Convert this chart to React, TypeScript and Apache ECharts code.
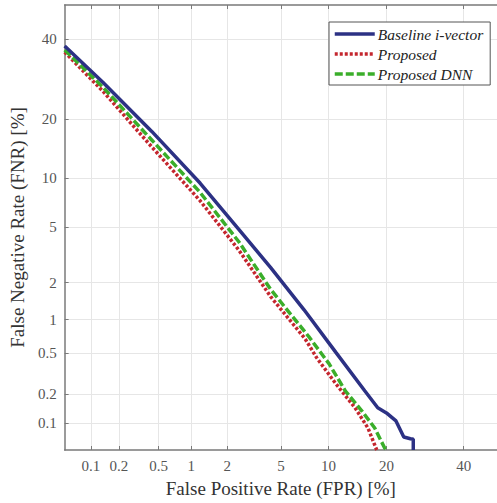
import React, { useEffect, useRef } from "react";
import * as echarts from "echarts";

// Tick positions (percent) and labels on both probit-scaled axes
const tickPercents = [0.1, 0.2, 0.5, 1, 2, 5, 10, 20, 40];
const tickLabels = ["0.1", "0.2", "0.5", "1", "2", "5", "10", "20", "40"];
const axisMinPercent = 0.05;
const axisMaxPercent = 50;

const seriesNames = ["Baseline i-vector", "Proposed", "Proposed DNN"];

// Baseline i-vector (FPR %, FNR %)
const baselineFPR = [0.05, 0.135, 0.43, 1.19, 2.47, 4.25, 7.1, 11.0, 15.7, 18.2, 20.0, 22.1, 23.9, 25.5, 26.2, 26.2];
const baselineFNR = [38.1, 28.4, 17.5, 9.4, 4.86, 2.61, 1.21, 0.51, 0.217, 0.145, 0.128, 0.105, 0.07, 0.067, 0.066, 0.05];

// Proposed
const proposedFPR = [0.05, 0.135, 0.43, 1.19, 2.47, 4.25, 7.2, 8.5, 11.0, 14.0, 16.3, 18.0];
const proposedFNR = [36.4, 26.2, 14.7, 7.4, 3.5, 1.55, 0.68, 0.455, 0.255, 0.145, 0.088, 0.05];

// Proposed DNN
const dnnFPR = [0.05, 0.135, 0.43, 1.19, 2.47, 4.25, 7.6, 10.05, 12.4, 15.2, 17.6, 19.6, 20.0];
const dnnFNR = [37.0, 27.2, 15.9, 8.3, 4.0, 1.77, 0.71, 0.4, 0.217, 0.134, 0.088, 0.053, 0.05];

function probit(p: number): number {
  const a = [-3.969683028665376e1, 2.209460984245205e2, -2.759285104469687e2, 1.38357751867269e2, -3.066479806614716e1, 2.506628277459239];
  const b = [-5.447609879822406e1, 1.615858368580409e2, -1.556989798598866e2, 6.680131188771972e1, -1.328068155288572e1];
  const c = [-7.784894002430293e-3, -3.223964580411365e-1, -2.400758277161838, -2.549732539343734, 4.374664141464968, 2.938163982698783];
  const d = [7.784695709041462e-3, 3.224671290700398e-1, 2.445134137142996, 3.754408661907416];
  const plow = 0.02425;
  const phigh = 1 - plow;
  if (p < plow) {
    const q = Math.sqrt(-2 * Math.log(p));
    return (((((c[0] * q + c[1]) * q + c[2]) * q + c[3]) * q + c[4]) * q + c[5]) / ((((d[0] * q + d[1]) * q + d[2]) * q + d[3]) * q + 1);
  }
  if (p <= phigh) {
    const q = p - 0.5;
    const r = q * q;
    return ((((((a[0] * r + a[1]) * r + a[2]) * r + a[3]) * r + a[4]) * r + a[5]) * q) / (((((b[0] * r + b[1]) * r + b[2]) * r + b[3]) * r + b[4]) * r + 1);
  }
  const q = Math.sqrt(-2 * Math.log(1 - p));
  return -(((((c[0] * q + c[1]) * q + c[2]) * q + c[3]) * q + c[4]) * q + c[5]) / ((((d[0] * q + d[1]) * q + d[2]) * q + d[3]) * q + 1);
}

const toP = (pct: number) => probit(pct / 100);
const tickProbits = tickPercents.map(toP);
const fmt = (v: number) => {
  const i = tickProbits.findIndex((t) => Math.abs(t - v) < 1e-6);
  return i >= 0 ? tickLabels[i] : "";
};
const pairs = (xs: number[], ys: number[]) => xs.map((x, i) => [toP(x), toP(ys[i])]);

const SERIF = "'Liberation Serif', 'Times New Roman', 'DejaVu Serif', serif";
const AXIS_COLOR = "#7a7a7a";
const GRID_COLOR = "#e6e6e6";

export default function App() {
  const ref = useRef<HTMLDivElement>(null);
  useEffect(() => {
    if (!ref.current) return;
    const chart = echarts.init(ref.current, null, { renderer: "svg" });
    const minP = toP(axisMinPercent);
    const maxP = toP(axisMaxPercent);
    const baseAxis = {
      type: "value",
      min: minP,
      max: maxP,
      axisLine: { show: true, onZero: false, lineStyle: { color: AXIS_COLOR, width: 1.5 } },
      axisTick: { show: true, inside: true, length: 4, customValues: tickProbits, lineStyle: { color: AXIS_COLOR } },
      splitLine: { show: true, lineStyle: { color: GRID_COLOR, width: 1 } },
    };
    chart.setOption({
      animation: false,
      backgroundColor: "#ffffff",
      grid: { left: 61, top: 5, width: 445, height: 445, containLabel: false },
      legend: {
        orient: "vertical",
        left: 329,
        top: 22,
        data: seriesNames,
        itemWidth: 40,
        itemHeight: 12,
        itemGap: 4,
        padding: [4, 7, 3, 4],
        backgroundColor: "#ffffff",
        borderColor: "#555555",
        borderWidth: 1,
        itemStyle: { opacity: 0 },
        lineStyle: { width: 3.5 },
        textStyle: { fontFamily: SERIF, fontStyle: "italic", fontSize: 15.5, lineHeight: 15, color: "#222", padding: [0, 0, 0, -2] },
      },
      xAxis: [
        {
          ...baseAxis,
          position: "bottom",
          name: "False Positive Rate (FPR) [%]",
          nameLocation: "middle",
          nameGap: 29,
          nameTextStyle: { fontFamily: SERIF, fontSize: 19, color: "#333" },
          axisLabel: { show: true, customValues: tickProbits, formatter: fmt, margin: 8, fontFamily: SERIF, fontSize: 15, color: "#555" },
        },
        {
          ...baseAxis,
          position: "top",
          splitLine: { show: false },
          axisLabel: { show: false },
        },
      ],
      yAxis: [
        {
          ...baseAxis,
          position: "left",
          name: "False Negative Rate (FNR) [%]",
          nameLocation: "middle",
          nameGap: 35,
          nameTextStyle: { fontFamily: SERIF, fontSize: 19, color: "#333" },
          axisLabel: { show: true, customValues: tickProbits, formatter: fmt, margin: 8, fontFamily: SERIF, fontSize: 15, color: "#555" },
        },
      ],
      series: [
        {
          name: seriesNames[1],
          type: "line",
          showSymbol: false,
          symbol: "none",
          data: pairs(proposedFPR, proposedFNR),
          lineStyle: { color: "#c4262e", width: 3.5, type: [3, 2] },
          itemStyle: { color: "#c4262e" },
          z: 2,
        },
        {
          name: seriesNames[2],
          type: "line",
          showSymbol: false,
          symbol: "none",
          data: pairs(dnnFPR, dnnFNR),
          lineStyle: { color: "#3aae2a", width: 3.5, type: [8, 3] },
          itemStyle: { color: "#3aae2a" },
          z: 3,
        },
        {
          name: seriesNames[0],
          type: "line",
          showSymbol: false,
          symbol: "none",
          data: pairs(baselineFPR, baselineFNR),
          lineStyle: { color: "#2c3184", width: 3.5 },
          itemStyle: { color: "#2c3184" },
          z: 4,
        },
      ],
    });
    return () => chart.dispose();
  }, []);
  return <div ref={ref} style={{ position: "fixed", left: 0, top: 0, width: 497, height: 503 }} />;
}
